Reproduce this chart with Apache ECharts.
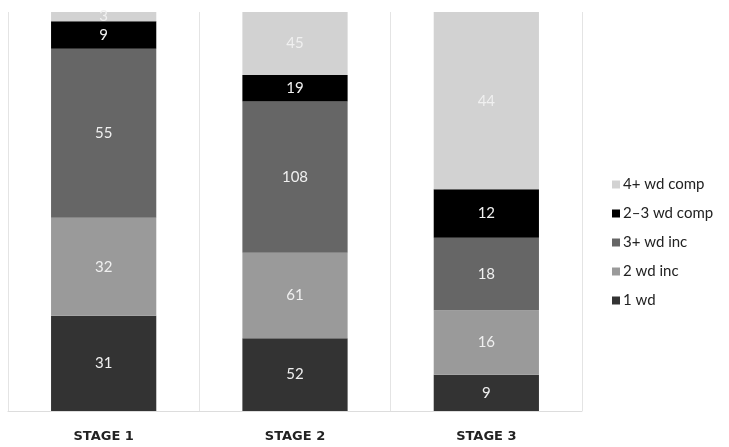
<!DOCTYPE html>
<html>
<head>
<meta charset="utf-8">
<script src="https://cdn.jsdelivr.net/npm/echarts@6/dist/echarts.min.js"></script>
<style>
  html, body { margin: 0; padding: 0; background: #fff; }
  #chart { width: 729px; height: 447px; }
</style>
</head>
<body>
<div id="chart"></div>
<script>
// Stages along the x axis
const stages = ['STAGE 1', 'STAGE 2', 'STAGE 3'];

// Counts per word group, bottom to top of each column
const oneWd = [31, 52, 9];
const twoWdInc = [32, 61, 16];
const threePlusWdInc = [55, 108, 18];
const twoThreeWdComp = [9, 19, 12];
const fourPlusWdComp = [3, 45, 44];

const seriesNames = ['1 wd', '2 wd inc', '3+ wd inc', '2\u20133 wd comp', '4+ wd comp'];
const seriesColors = ['#333333', '#9a9a9a', '#666666', '#000000', '#d2d2d2'];
const seriesValues = [oneWd, twoWdInc, threePlusWdInc, twoThreeWdComp, fourPlusWdComp];

// Column totals so each stage fills the full height
const totals = stages.map((_, i) => seriesValues.reduce((s, arr) => s + arr[i], 0));

const chart = echarts.init(document.getElementById('chart'));

// Each segment is drawn as its share of the column; the label shows the count
const series = seriesNames.map((name, k) => ({
  name: name,
  type: 'bar',
  stack: 'all',
  barWidth: '55%',
  itemStyle: { color: seriesColors[k] },
  data: seriesValues[k].map((v, i) => v / totals[i] * 100),
  label: {
    show: true,
    position: 'inside',
    color: '#f0f0f0',
    fontFamily: 'Lato, "Open Sans", sans-serif',
    fontSize: 15,
    formatter: p => String(seriesValues[k][p.dataIndex])
  }
}));

chart.setOption({
  animation: false,
  backgroundColor: '#ffffff',
  grid: { left: 8, right: 147, top: 12, bottom: 36 },
  xAxis: {
    type: 'category',
    data: stages,
    axisLine: { show: true, lineStyle: { color: '#dddddd' } },
    axisTick: { show: false },
    splitLine: { show: true, lineStyle: { color: '#e4e4e4' } },
    axisLabel: {
      color: '#222222',
      fontWeight: 'bold',
      fontSize: 13,
      fontFamily: '"DejaVu Sans", sans-serif',
      margin: 19
    }
  },
  yAxis: {
    type: 'value',
    min: 0,
    max: 100,
    show: false
  },
  legend: {
    orient: 'vertical',
    left: 607,
    top: 172,
    itemWidth: 8,
    itemHeight: 8,
    itemGap: 14,
    icon: 'rect',
    data: ['4+ wd comp', '2\u20133 wd comp', '3+ wd inc', '2 wd inc', '1 wd'],
    textStyle: {
      color: '#222222',
      fontSize: 15,
      fontFamily: 'Lato, "Open Sans", sans-serif',
      padding: [0, 0, 0, -2]
    }
  },
  series: series
});
</script>
</body>
</html>
